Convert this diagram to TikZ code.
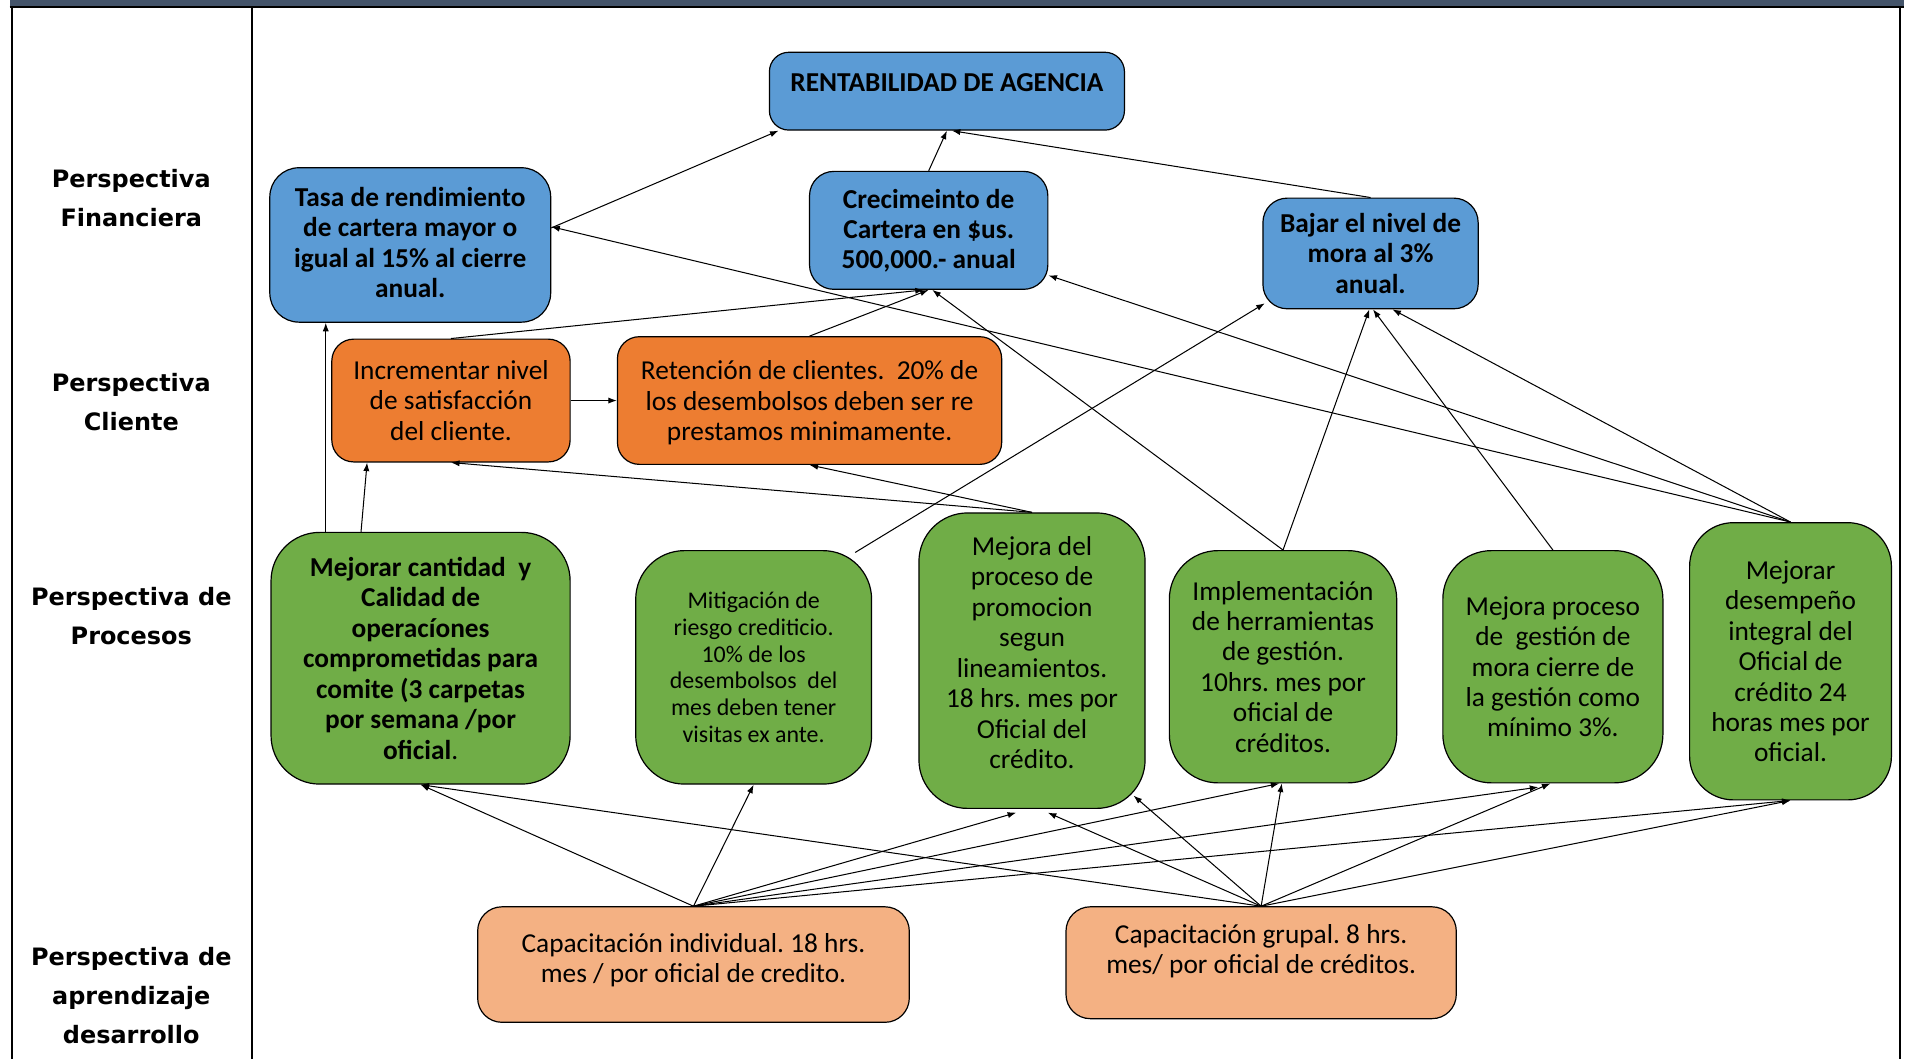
\documentclass[tikz,border=0pt]{standalone}
\usepackage{fontspec}
\usepackage{xcolor}
\setmainfont{Carlito}
\newfontfamily\lblfont{DejaVu Sans}
\usetikzlibrary{arrows.meta,calc}
\definecolor{finblue}{HTML}{5B9BD5}
\definecolor{cliorange}{HTML}{ED7D31}
\definecolor{procgreen}{HTML}{70AD47}
\definecolor{aprpeach}{HTML}{F4B183}
\definecolor{barslate}{HTML}{44546A}

\begin{document}
\begin{tikzpicture}[x=0.025cm, y=-0.025cm,
    >={Latex[length=5pt,width=3.6pt]},
    every path/.style={line width=0.6pt},
    box/.style={draw=black, line width=0.7pt, align=center, inner sep=2pt,
        font=\fontsize{16}{17.8}\selectfont\frenchspacing},
    finbox/.style={box, fill=finblue, rounded corners=0.5cm,
        font=\fontsize{16}{17.6}\selectfont\bfseries\frenchspacing},
    clibox/.style={box, fill=cliorange, rounded corners=0.45cm},
    procbox/.style={box, fill=procgreen, rounded corners=1cm},
    aprbox/.style={box, fill=aprpeach, rounded corners=0.5cm},
    lbl/.style={align=center, font=\lblfont\bfseries\fontsize{14}{22.7}\selectfont}]
    \useasboundingbox (0,0) rectangle (1568,871);

    % Frame
    \fill[barslate] (8,0) rectangle (1566,5);
    \draw[line width=1.3pt] (8,6) -- (1566,6);
    \draw[line width=1.3pt] (10,6) -- (10,871);
    \draw[line width=1.3pt] (207,6) -- (207,871);
    \draw[line width=1.3pt] (1563,6) -- (1563,871);

    % Perspectives
    \node[lbl] (lfin) at (108,163) {Perspectiva\\Financiera};
    \node[lbl] (lcli) at (108,331) {Perspectiva\\Cliente};
    \node[lbl] (lproc) at (108,507) {Perspectiva de\\Procesos};
    \node[lbl] (lapr) at (108,819) {Perspectiva de\\aprendizaje\\desarrollo};

    % Financial
    \node[finbox, minimum width=7.3cm, minimum height=1.6cm, text depth=10pt, rounded corners=0.4cm] (R) at (779,75) {RENTABILIDAD DE AGENCIA};
    \node[finbox, minimum width=5.775cm, minimum height=3.175cm, text depth=3pt, rounded corners=0.6cm] (F1) at (337.5,201.5) {Tasa de rendimiento\\de cartera mayor o\\igual al 15\% al cierre\\anual.};
    \node[finbox, minimum width=4.9cm, minimum height=2.425cm] (F2) at (764,189.5) {Crecimeinto de\\Cartera en \$us.\\500,000.- anual};
    \node[finbox, minimum width=4.425cm, minimum height=2.275cm] (F3) at (1127.5,208.5) {Bajar el nivel de\\mora al 3\%\\anual.};

    % Client
    \node[clibox, minimum width=4.9cm, minimum height=2.525cm] (C1) at (371,329.5) {Incrementar nivel\\de satisfacción\\del cliente.};
    \node[clibox, minimum width=7.9cm, minimum height=2.625cm, text depth=0pt] (C2) at (666,329.5) {Retención de clientes.~~20\% de\\los desembolsos deben ser re\\prestamos minimamente.};

    % Processes
    \node[procbox, minimum width=6.15cm, minimum height=5.175cm, font=\fontsize{16}{17.8}\selectfont\bfseries\frenchspacing] (P1) at (346,541.5) {Mejorar cantidad~~y\\Calidad de\\operacíones\\comprometidas para\\comite (3 carpetas\\por semana /por\\oficial\textmd{.}};
    \node[procbox, minimum width=4.85cm, minimum height=4.8cm, font=\fontsize{14}{15.6}\selectfont\frenchspacing] (P2) at (620,549) {Mitigación de\\riesgo crediticio.\\10\% de los\\desembolsos~~del\\mes deben tener\\visitas ex ante.};
    \node[procbox, minimum width=4.65cm, minimum height=6.075cm, text depth=9.5pt] (P3) at (849,543.5) {Mejora del\\proceso de\\promocion\\segun\\lineamientos.\\18 hrs. mes por\\Oficial del\\crédito.};
    \node[procbox, minimum width=4.675cm, minimum height=4.775cm] (P4) at (1055.5,548.5) {Implementación\\de herramientas\\de gestión.\\10hrs. mes por\\oficial de\\créditos.};
    \node[procbox, minimum width=4.525cm, minimum height=4.775cm] (P5) at (1277.5,548.5) {Mejora proceso\\de~~gestión de\\mora cierre de\\la gestión como\\mínimo 3\%.};
    \node[procbox, minimum width=4.15cm, minimum height=5.7cm, rounded corners=0.9cm] (P6) at (1473,544) {Mejorar\\desempeño\\integral del\\Oficial de\\crédito 24\\horas mes por\\oficial.};

    % Learning
    \node[aprbox, minimum width=8.875cm, minimum height=2.375cm, text depth=8pt] (L1) at (570.5,793.5) {Capacitación individual. 18 hrs.\\mes / por oficial de credito.};
    \node[aprbox, minimum width=8.025cm, minimum height=2.3cm, text depth=16pt] (L2) at (1037.5,792) {Capacitación grupal. 8 hrs.\\mes/ por oficial de créditos.};

    % Arrows to the top goal
    \draw[->] ($(F1.east)+(0,-14)$) -- ($(R.south west)+(8,0)$);
    \draw[->] (F2.north) -- (R.south);
    \draw[->] (F3.north) -- ($(R.south)+(4,0)$);

    % Arrows into financial and client rows
    \draw[->] ($(P1.north)+(-78,0)$) -- ($(F1.south)+(-69.5,0)$);
    \draw[->] ($(P1.north)+(-49,0)$) -- ($(C1.south)+(-69,0)$);
    \draw[->] (C1.north) -- ($(F2.south)+(-4,0)$);
    \draw[->] (C2.north) -- (F2.south);
    \draw[->] (C1.east) -- (C2.west);
    \draw[->] (P3.north) -- (C1.south);
    \draw[->] (P3.north) -- (C2.south);
    \draw[->] ($(P2.north east)+(-14,2)$) -- ($(F3.south west)+(2,-5)$);
    \draw[->] (P4.north) -- ($(F2.south)+(3,0)$);
    \draw[->] (P4.north) -- ($(F3.south)+(-1,0)$);
    \draw[->] (P5.north) -- ($(F3.south)+(2,0)$);
    \draw[->] (P6.north) -- ($(F3.south)+(18,0)$);
    \draw[->] (P6.north) -- ($(F2.south east)+(0,-12)$);
    \draw[->] (P6.north) -- ($(F1.east)+(0,-15)$);

    % Arrows from learning
    \draw[->] (L1.north) -- (P1.south);
    \draw[->] (L1.north) -- (P2.south);
    \draw[->] (L1.north) -- ($(P3.south)+(-13,3)$);
    \draw[->] (L1.north) -- ($(P4.south)+(-3,0)$);
    \draw[->] (L1.north) -- ($(P5.south)+(-12,3)$);
    \draw[->] (L1.north) -- (P6.south);
    \draw[->] (L2.north) -- (P1.south);
    \draw[->] (L2.north) -- ($(P3.south)+(13,3)$);
    \draw[->] (L2.north) -- ($(P3.south east)+(-10,-11)$);
    \draw[->] (L2.north) -- ($(P4.south)+(-1,0)$);
    \draw[->] (L2.north) -- ($(P5.south)+(-2,0)$);
    \draw[->] (L2.north) -- (P6.south);
\end{tikzpicture}
\end{document}
